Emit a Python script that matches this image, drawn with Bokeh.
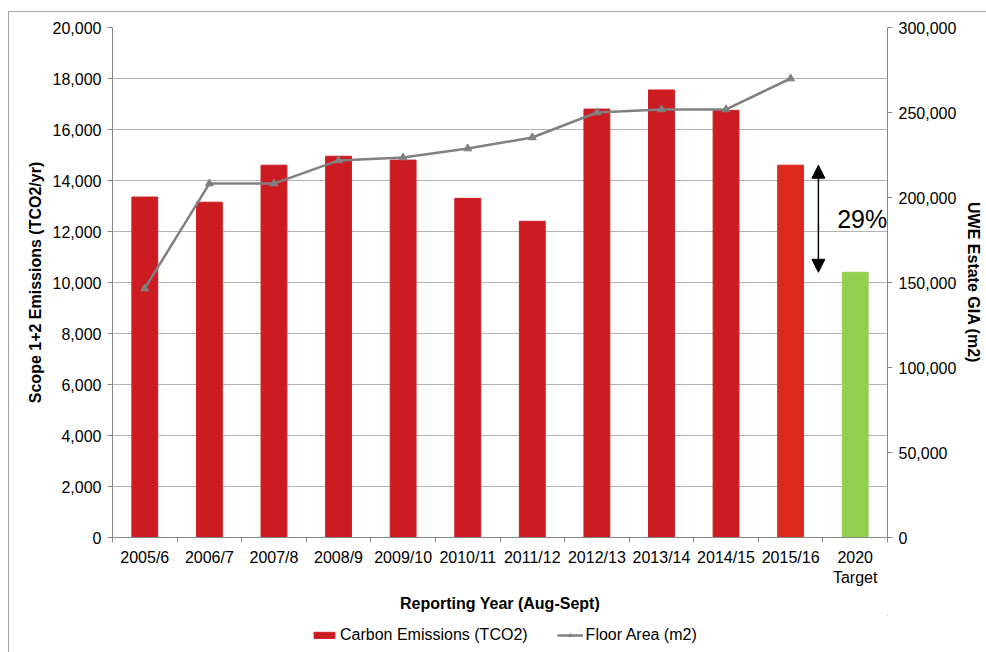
import numpy as np
from bokeh.plotting import figure
from bokeh.layouts import column
from bokeh.models import (Range1d, LinearAxis, FixedTicker, NumeralTickFormatter,
                          Legend, LegendItem, Arrow, NormalHead, Label, ColumnDataSource)
from bokeh.embed import file_html
from bokeh.resources import INLINE

categories = ["2005/6", "2006/7", "2007/8", "2008/9", "2009/10", "2010/11", "2011/12",
              "2012/13", "2013/14", "2014/15", "2015/16", "2020\nTarget"]
emissions = [13350, 13150, 14600, 14950, 14800, 13300, 12400, 16800, 17550, 16750, 14600, 10400]
bar_colors = ["#CC1C22"] * 10 + ["#DC2A1E", "#92D050"]
floor_area = [146500, 208200, 208200, 221800, 223500, 228800, 235300, 250000, 251800, 251800, 270000]

FONT = "Liberation Sans"
FS = "16px"
GRAY = "#808080"
xs = np.arange(len(categories)) + 0.5

p = figure(width=986, height=615, output_backend="svg", toolbar_location=None,
           x_range=Range1d(0, len(categories)), y_range=Range1d(0, 20000),
           min_border_left=112, min_border_right=99, min_border_top=27, min_border_bottom=78)
p.outline_line_color = None
p.border_fill_alpha = 0
p.extra_y_ranges = {"area": Range1d(0, 300000)}

src = ColumnDataSource(dict(x=xs, top=emissions, color=bar_colors))
bars = p.vbar(x="x", top="top", width=0.4, color="color", source=src)

line = p.line(xs[:len(floor_area)], floor_area, y_range_name="area", line_color=GRAY, line_width=2.5)
pts = p.scatter(xs[:len(floor_area)], floor_area, y_range_name="area", marker="triangle",
                size=8, color=GRAY)

# axes
p.xaxis.ticker = FixedTicker(ticks=list(xs), minor_ticks=list(range(len(categories) + 1)))
p.xaxis.major_label_overrides = {float(x): c for x, c in zip(xs, categories)}
p.xaxis.axis_label = "Reporting Year (Aug-Sept)"

p.yaxis.ticker = FixedTicker(ticks=list(range(0, 20001, 2000)))
p.yaxis.formatter = NumeralTickFormatter(format="0,0")
p.yaxis.axis_label = "Scope 1+2 Emissions (TCO2/yr)"

ra = LinearAxis(y_range_name="area", axis_label="UWE Estate GIA (m2)",
                ticker=FixedTicker(ticks=list(range(0, 300001, 50000))),
                formatter=NumeralTickFormatter(format="0,0"))
p.add_layout(ra, "right")

for ax in [p.xaxis[0], p.yaxis[0], ra]:
    ax.axis_line_color = "#868686"
    ax.major_tick_out = 5
    ax.major_tick_in = 0
    ax.major_tick_line_color = "#868686"
    ax.minor_tick_line_color = None
    ax.major_label_text_font = FONT
    ax.major_label_text_font_size = FS
    ax.major_label_text_color = "#000000"
    ax.axis_label_text_font = FONT
    ax.axis_label_text_font_size = FS
    ax.axis_label_text_font_style = "bold"
    ax.axis_label_text_color = "#000000"
    ax.axis_label_standoff = 6
    ax.major_label_standoff = 6

p.xaxis.major_tick_line_color = None
p.xaxis.minor_tick_line_color = "#868686"
p.xaxis.minor_tick_out = 5
p.xaxis.minor_tick_in = 0

p.xgrid.grid_line_color = None
p.ygrid.grid_line_color = "#B3B3B3"
p.ygrid.ticker = p.yaxis[0].ticker

# reduction arrow
head = dict(size=13, fill_color="black", line_color="black")
p.add_layout(Arrow(x_start=10.93, y_start=emissions[-2], x_end=10.93, y_end=emissions[-1],
                   start=NormalHead(**head), end=NormalHead(**head), line_width=1.5))
pct = round((emissions[-2] - emissions[-1]) / emissions[-2] * 100)
p.add_layout(Label(x=11.22, y=(emissions[-2] + emissions[-1]) / 2, text=f"{pct}%",
                   text_font=FONT, text_font_size="25px", text_baseline="middle",
                   text_color="#000000"))

# legend strip (glyphs kept outside the strip's visible range; only the legend shows)
lg = figure(width=986, height=37, output_backend="svg", toolbar_location=None,
            x_range=Range1d(0, 1), y_range=Range1d(0, 1), min_border=0,
            x_axis_type=None, y_axis_type=None)
lg.outline_line_color = None
lg.border_fill_alpha = 0
lg.background_fill_alpha = 0
lg.grid.grid_line_color = None
lb = lg.vbar(x=[5], top=[5], bottom=[4], width=0.4, color=bar_colors[0])
ll = lg.line(x=[5, 6], y=[5, 5], line_color=GRAY, line_width=2.5)
lp = lg.scatter(x=[5], y=[5], marker="triangle", size=7, color=GRAY)
legend = Legend(items=[LegendItem(label="Carbon Emissions (TCO2)", renderers=[lb]),
                       LegendItem(label="Floor Area (m2)", renderers=[ll, lp])],
                orientation="horizontal", location=(199, 8), border_line_color=None,
                background_fill_alpha=0, label_text_font=FONT, label_text_font_size=FS,
                label_text_color="#000000",
                glyph_width=26, glyph_height=8, spacing=29, margin=0, padding=0,
                label_standoff=3)
lg.add_layout(legend, "center")

layout = column(p, lg, spacing=0)
layout.styles = {
    "background-image": "linear-gradient(#A6A6A6, #A6A6A6), linear-gradient(#A6A6A6, #A6A6A6)",
    "background-size": "1px 100%, 100% 1px",
    "background-position": "8px 11px, 8px 11px",
    "background-repeat": "no-repeat",
}
open("out.html", "w").write(file_html(layout, INLINE))
